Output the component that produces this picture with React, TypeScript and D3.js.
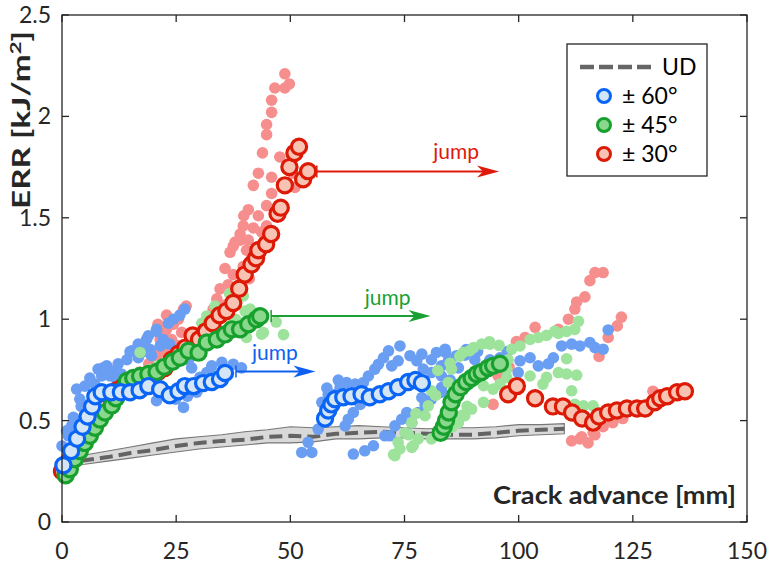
import React from 'react';
import * as d3 from 'd3';

const W = 767, H = 567;
const FONT = "Lato, 'Open Sans', sans-serif";

// axis ticks
const xTicks = [0, 25, 50, 75, 100, 125, 150];
const yTicks = [0, 0.5, 1, 1.5, 2, 2.5];
const yTickLabels = ['0', '0.5', '1', '1.5', '2', '2.5'];

// UD reference (mean and scatter band)
const udX = [0, 5, 10, 15, 20, 25, 30, 35, 40, 45, 50, 55, 60, 65, 70, 75, 80, 85, 90, 95, 100, 105, 110];
const udMean = [0.30, 0.305, 0.32, 0.34, 0.355, 0.375, 0.39, 0.40, 0.405, 0.42, 0.425, 0.42, 0.435, 0.44, 0.445, 0.44, 0.435, 0.43, 0.43, 0.44, 0.45, 0.455, 0.46];
const udUpper = [0.32, 0.33, 0.35, 0.37, 0.39, 0.41, 0.42, 0.43, 0.445, 0.455, 0.47, 0.465, 0.47, 0.475, 0.47, 0.465, 0.46, 0.465, 0.465, 0.47, 0.48, 0.48, 0.485];
const udLower = [0.28, 0.285, 0.30, 0.315, 0.33, 0.345, 0.36, 0.37, 0.38, 0.39, 0.39, 0.395, 0.41, 0.41, 0.415, 0.415, 0.41, 0.41, 0.41, 0.415, 0.425, 0.43, 0.435];

// ±60 (blue): averaged curve (two segments) and raw specimens
const blueAvg1 = [[0.3,0.28],[2,0.35],[3.3,0.41],[4.5,0.47],[5.6,0.52],[6.6,0.57],[7.3,0.62],[8.7,0.64],[10.8,0.64],[12.9,0.64],[14.9,0.64],[17,0.65],[18.9,0.67],[21.5,0.655],[23.6,0.625],[25.5,0.645],[26.9,0.67],[28.8,0.67],[30.9,0.685],[32.8,0.69],[34.6,0.705],[35.7,0.735]];
const blueAvg2 = [[57.6,0.51],[58.3,0.55],[59,0.58],[59.8,0.605],[61.6,0.615],[63.4,0.62],[65.6,0.63],[67.4,0.615],[69.6,0.63],[71.5,0.645],[73.6,0.665],[75.8,0.69],[77.4,0.7],[78.8,0.685]];
const blueRaw = [[0,0.375],[1.4,0.425],[2.1,0.474],[2.5,0.516],[3.9,0.606],[3.2,0.655],[5,0.67],[7.2,0.68],[6.1,0.71],[8.7,0.72],[7.9,0.754],[11.6,0.745],[9.8,0.77],[12.3,0.78],[14.2,0.8],[16.7,0.81],[14.9,0.84],[17.8,0.84],[19.3,0.85],[16.7,0.877],[18.5,0.9],[22.2,0.9],[20.7,0.94],[23.3,0.98],[15.3,0.844],[17.8,0.852],[19.6,0.82],[21.5,0.868],[23.6,0.877],[25.5,0.852],[18.9,0.918],[20.7,0.95],[24.4,1.0],[25.8,1.02],[26.9,1.05],[24.9,0.8],[27.7,0.8],[28.4,0.76],[30.2,0.713],[31.7,0.737],[32.8,0.77],[35,0.787],[37.5,0.778],[39.3,0.76],[20.7,0.598],[22.8,0.62],[24.9,0.606],[26.6,0.565],[27.5,0.62],[10.5,0.72],[13,0.73],[4.2,0.57],[1,0.45],[12,0.7],[29.5,0.64],[33.5,0.72],[9,0.76],
  [52.5,0.343],[54.7,0.343],[53.9,0.393],[56.1,0.458],[56.9,0.59],[58.3,0.63],[59.8,0.63],[60.9,0.663],[62.3,0.688],[64.2,0.68],[66,0.688],[67.1,0.72],[68.5,0.754],[69.3,0.778],[70.4,0.81],[71.5,0.844],[74,0.868],[72.2,0.77],[73.6,0.795],[76.2,0.82],[77.7,0.795],[78.8,0.828],[80.9,0.8],[82,0.836],[84,0.836],[84.6,0.795],[79.1,0.754],[80.9,0.737],[83.1,0.77],[65.3,0.58],[63.8,0.54],[62.7,0.507],[62,0.474],[63.8,0.335],[66.3,0.351],[68.2,0.376],[70.7,0.425],[71.8,0.425],[72.9,0.474],[74.4,0.507],[75.5,0.54],[76.6,0.49],[78,0.54],[79.5,0.58],[78.8,0.614],[80.9,0.606],[82,0.63],[83.1,0.663],[83.9,0.852],[86.4,0.82],[88.2,0.823],[90.4,0.8],[85,0.778],[86.8,0.76],[83.1,0.72],[85,0.7],[83.1,0.64],[93.7,0.8],[95.9,0.81],[99.9,0.737],[100.3,0.795],[102.5,0.81],[104.3,0.77],[106.5,0.78],[107.6,0.81],[109.4,0.868],[111.6,0.877],[113.4,0.868],[115.6,0.885],[116.7,0.86],[118.5,0.852],[119.6,0.947],[88.5,0.85],[91,0.84],[97.5,0.84],[60.5,0.7],[58,0.66]];

// ±45 (green)
const greenAvg1 = [[0.8,0.23],[1.7,0.26],[2.8,0.31],[3.9,0.35],[5,0.39],[6.1,0.425],[7.2,0.465],[8.3,0.505],[9.4,0.54],[10.9,0.575],[11.8,0.61],[12.9,0.645],[14.2,0.695],[15.6,0.71],[17.1,0.72],[18.9,0.73],[20.7,0.74],[22.4,0.765],[24.2,0.79],[25.8,0.81],[27.7,0.845],[29.9,0.835],[31.7,0.885],[33.9,0.9],[35.7,0.925],[37.2,0.95],[39,0.95],[40.8,0.975],[42.6,1.0],[43.4,1.015]];
const greenAvg2 = [[82.9,0.44],[83.6,0.47],[84.1,0.5],[84.7,0.54],[85.3,0.59],[86.2,0.63],[87.3,0.665],[88.5,0.69],[89.7,0.71],[90.8,0.73],[91.9,0.74],[93.3,0.76],[94.4,0.77],[95.9,0.78]];
const greenRaw = [[0.5,0.22],[2,0.29],[4,0.37],[6,0.44],[8,0.5],[10,0.55],[12,0.6],[14,0.66],[17.1,0.836],[16,0.72],[19,0.75],[21,0.77],[23,0.79],[26,0.82],[28,0.86],[30.6,0.98],[31.7,1.016],[33.5,1.065],[35,1.04],[39.7,1.115],[40.1,1.04],[41.2,1.05],[43.4,1.0],[40.4,0.91],[43.7,0.926],[44.1,0.934],[46.9,0.986],[48.5,0.924],[37,0.97],[38,1.0],[36.7,1.127],
  [72.6,0.332],[72.9,0.327],[74,0.36],[73.6,0.393],[75.1,0.44],[76.6,0.368],[76.9,0.376],[75.9,0.43],[76.6,0.49],[77.5,0.535],[78,0.41],[79.5,0.524],[80.2,0.573],[80.9,0.41],[81.8,0.624],[80.9,0.647],[79.6,0.677],[82.3,0.747],[84.6,0.688],[85.3,0.754],[85,0.783],[87.1,0.818],[87.9,0.836],[89.3,0.845],[90.1,0.86],[91.9,0.877],[93.7,0.877],[95.7,0.871],[93.6,0.889],[88.7,0.57],[87.6,0.526],[86.8,0.49],[88.2,0.524],[89.7,0.557],[92.3,0.59],[94.4,0.655],[92.3,0.672],[95.9,0.68],[97.4,0.713],[97.4,0.754],[97.7,0.8],[98.5,0.852],[100.3,0.868],[102.5,0.9],[104.3,0.91],[106.1,0.92],[107.9,0.94],[108.7,0.93],[110.5,0.94],[112.3,0.95],[113.1,0.99],[102.5,0.72],[105.3,0.68],[106.1,0.713],[108.7,0.737],[110.5,0.73],[112.7,0.724],[110.5,0.805],[111.6,0.647],[112.3,0.58],[114.2,0.573],[116.3,0.573],[84,0.44],[85.5,0.47]];

// ±30 (red)
const redAvg1 = [[0,0.25],[1.5,0.3],[3,0.36],[4.5,0.42],[6,0.48],[7.5,0.53],[9,0.58],[10.5,0.62],[12,0.65],[13.5,0.67],[15,0.69],[16.5,0.7],[18,0.71],[19.5,0.72],[21,0.74],[22.5,0.76],[24,0.8],[25.5,0.83],[27,0.86],[28.6,0.92],[30,0.9],[31.5,0.94],[33,0.98],[34.5,1.02],[36,1.04],[37.5,1.08],[38.8,1.15],[40,1.22],[41.5,1.27],[42.5,1.3],[43,1.34],[44.7,1.37],[45.8,1.42],[47.2,1.52],[47.9,1.55],[48.8,1.66],[49.8,1.75],[50.9,1.82],[51.9,1.85],[52.8,1.69],[53.9,1.73]];
const redAvg2 = [[97.7,0.63],[99.6,0.67],[103.6,0.61],[107.5,0.57],[109.7,0.57],[111.7,0.54],[113.9,0.51],[116.3,0.49],[117.6,0.52],[119.6,0.54],[121.5,0.55],[123.7,0.56],[125.9,0.56],[127.7,0.56],[129.8,0.59],[131,0.61],[132.5,0.62],[134.7,0.64],[136.4,0.645]];
const redRaw = [[0.5,0.24],[3,0.33],[5,0.42],[7.2,0.5],[9.4,0.58],[11,0.62],[13,0.66],[15,0.7],[17,0.74],[19,0.78],[20.7,0.82],[22.2,0.84],[23.6,0.82],[25.1,0.87],[21.5,0.9],[24,0.9],[26.2,0.935],[22.9,0.95],[24.4,0.975],[25.5,1.0],[21,0.975],[22.9,1.02],[26.6,1.05],[27.2,1.065],[22.2,0.918],
  [33.1,1.05],[34.6,1.02],[33.9,1.1],[35.7,1.07],[34.6,1.15],[36.4,1.17],[35.7,1.25],[37.5,1.22],[36.8,1.33],[37.9,1.38],[39,1.39],[37.5,1.36],[40.4,1.34],[41.5,1.3],[39,1.42],[40.8,1.39],[39.7,1.46],[41.9,1.45],[39.8,1.51],[43,1.51],[40.8,1.54],[43.7,1.43],[44.8,1.46],[44.8,1.56],[41.9,1.66],[45.9,1.62],[43,1.72],[45.9,1.7],[51,1.65],[43.9,1.82],[47.7,1.8],[44.8,1.91],[44.8,1.96],[45.9,2.02],[45.9,2.08],[46.6,2.14],[48.8,2.14],[49.8,2.16],[48.8,2.21],[50.5,1.72],[52.5,1.7],[39.7,1.26],[41,1.2],[38.5,1.12],[37,1.08],
  [94.4,0.58],[95.5,0.72],[99.5,0.89],[101.4,0.91],[103.6,0.96],[108.7,0.95],[110.9,1.0],[112.3,1.05],[112.7,1.085],[114.5,1.11],[115.6,1.19],[116.7,1.23],[118.5,1.23],[117.6,0.816],[119.6,0.91],[121.6,0.967],[122.5,1.01],[111.6,0.4],[113.4,0.41],[115.2,0.39],[116.7,0.43],[113.8,0.42],[116.3,0.44],[118.5,0.47],[120.6,0.49],[122.8,0.51],[129.4,0.645],[97.9,0.765]];

// jump annotations: start x, end x, y, label x, label y
const jumps = [
  { color: '#e01a0a', x0: 55.8, x1: 95.7, y: 1.728, tx: 86.3, ty: 1.79 },
  { color: '#1aa033', x0: 45.8, x1: 80.7, y: 1.016, tx: 71.3, ty: 1.07 },
  { color: '#1060f0', x0: 38.1, x1: 55.5, y: 0.742, tx: 46.6, ty: 0.8 },
];

const styles = {
  blue: { edge: '#0a64f5', fill: '#d4e5f6', raw: '#6a9ef2' },
  green: { edge: '#17a02e', fill: '#8ad88c', raw: '#9de39b' },
  red: { edge: '#dd1a06', fill: '#f8c3b3', raw: '#f78e8e' },
};

const x = d3.scaleLinear().domain([0, 150]).range([62, 747]);
const y = d3.scaleLinear().domain([0, 2.5]).range([522, 15]);

export default function App() {
  const band = d3.area<number>()
    .x((_, i) => x(udX[i]))
    .y0((_, i) => y(udLower[i]))
    .y1((_, i) => y(udUpper[i]))(udX);
  const udLine = d3.line<number>()
    .x((_, i) => x(udX[i]))
    .y((d) => y(d))(udMean);

  const raw = (pts, color, key) => pts.map((d, i) => (
    <circle key={key + i} cx={x(d[0])} cy={y(d[1])} r={5.8} fill={color} />
  ));
  const avg = (pts, s, key) => pts.map((d, i) => (
    <circle key={key + i} cx={x(d[0])} cy={y(d[1])} r={7.6} fill={s.fill} stroke={s.edge} strokeWidth={3.2} />
  ));

  const [x0, x1] = x.range();
  const [yb, yt] = y.range();

  return (
    <svg width={W} height={H} style={{ position: 'absolute', left: 0, top: 0, background: '#fff' }} fontFamily={FONT}>
      <path d={band} fill="#d9d9d9" stroke="#777" strokeWidth={1.1} />
      <path d={udLine} fill="none" stroke="#636363" strokeWidth={4} strokeDasharray="13 6" />

      {raw(redRaw, styles.red.raw, 'rr')}
      {raw(blueRaw, styles.blue.raw, 'br')}
      {raw(greenRaw, styles.green.raw, 'gr')}

      {avg(redAvg1, styles.red, 'ra1')}
      {avg(redAvg2, styles.red, 'ra2')}
      {avg(greenAvg1, styles.green, 'ga1')}
      {avg(greenAvg2, styles.green, 'ga2')}
      {avg(blueAvg1, styles.blue, 'ba1')}
      {avg(blueAvg2, styles.blue, 'ba2')}

      {jumps.map((j, i) => {
        const ax0 = x(j.x0), ax1 = x(j.x1), ay = y(j.y);
        return (
          <g key={'j' + i} fill={j.color} stroke={j.color}>
            <line x1={ax0} x2={ax1 - 6} y1={ay} y2={ay} strokeWidth={2} />
            <line x1={ax0} x2={ax0} y1={ay - 6} y2={ay + 6} strokeWidth={1.5} />
            <path d={`M${ax1},${ay} L${ax1 - 22},${ay - 6} L${ax1 - 16},${ay} L${ax1 - 22},${ay + 6} Z`} stroke="none" />
            <text x={x(j.tx)} y={y(j.ty)} textAnchor="middle" fontSize={21} stroke="none">jump</text>
          </g>
        );
      })}

      {/* axes box */}
      <rect x={x0} y={yt} width={x1 - x0} height={yb - yt} fill="none" stroke="#262626" strokeWidth={1.3} />
      {xTicks.map((t) => (
        <g key={'xt' + t}>
          <line x1={x(t)} x2={x(t)} y1={yb} y2={yb - 7} stroke="#262626" strokeWidth={1.3} />
          <line x1={x(t)} x2={x(t)} y1={yt} y2={yt + 7} stroke="#262626" strokeWidth={1.3} />
          <text x={x(t)} y={yb + 37} textAnchor="middle" fontSize={23} fill="#262626">{t}</text>
        </g>
      ))}
      {yTicks.map((t, i) => (
        <g key={'yt' + t}>
          <line x1={x0} x2={x0 + 7} y1={y(t)} y2={y(t)} stroke="#262626" strokeWidth={1.3} />
          <line x1={x1} x2={x1 - 7} y1={y(t)} y2={y(t)} stroke="#262626" strokeWidth={1.3} />
          <text x={x0 - 11} y={y(t) + 8} textAnchor="end" fontSize={23} fill="#262626">{yTickLabels[i]}</text>
        </g>
      ))}

      <text transform="translate(30,120) rotate(-90)" textAnchor="middle" fontSize={24} fontWeight="bold" fill="#262626" textLength={178} lengthAdjust="spacingAndGlyphs">
        ERR [kJ/m<tspan dy={-9} fontSize={16}>2</tspan><tspan dy={9}>]</tspan>
      </text>
      <text x={736} y={504} textAnchor="end" fontSize={25} fontWeight="bold" fill="#262626" textLength={243} lengthAdjust="spacingAndGlyphs">Crack advance [mm]</text>

      {/* legend */}
      <g>
        <rect x={567} y={44} width={140} height={132} fill="#fff" stroke="#262626" strokeWidth={1.3} />
        <line x1={580} x2={653} y1={67} y2={67} stroke="#666" strokeWidth={4.5} strokeDasharray="14 5" />
        <text x={662} y={75} fontSize={23} fill="#000">UD</text>
        {[['± 60°', styles.blue], ['± 45°', styles.green], ['± 30°', styles.red]].map(([lbl, s], i) => (
          <g key={'lg' + i}>
            <circle cx={604} cy={96 + i * 29} r={6.5} fill={(s as any).fill} stroke={(s as any).edge} strokeWidth={3} />
            <text x={622} y={104 + i * 29} fontSize={23} fill="#000">{lbl as string}</text>
          </g>
        ))}
      </g>
    </svg>
  );
}
